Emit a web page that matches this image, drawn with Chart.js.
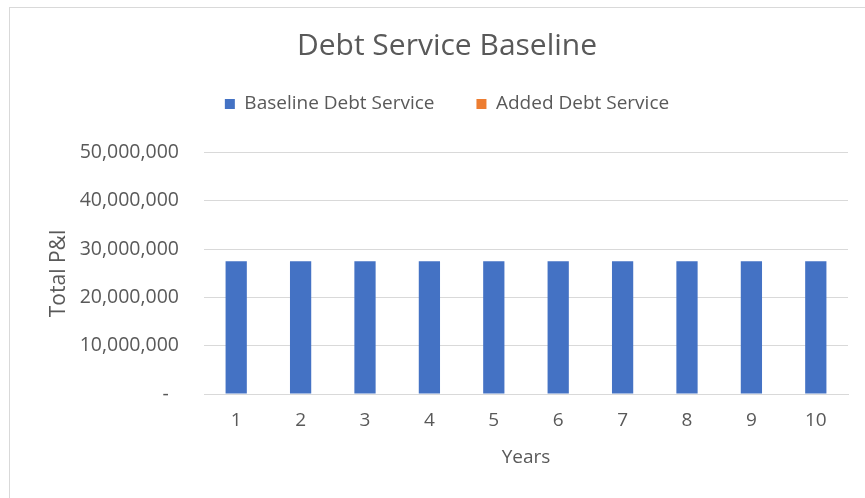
<!DOCTYPE html>
<html><head><meta charset="utf-8">
<script src="https://cdn.jsdelivr.net/npm/chart.js@4/dist/chart.umd.min.js"></script>
<style>
html,body{margin:0;padding:0;background:#fff;}
#wrap{position:relative;width:865px;height:498px;}
#frame{position:absolute;left:9px;top:7px;width:870px;height:500px;border:1px solid #d9d9d9;box-sizing:border-box;}
canvas{position:absolute;left:0;top:0;}
</style></head><body>
<div id="wrap"><div id="frame"></div><canvas id="c" width="865" height="498"></canvas></div>
<script>
const years = ['1','2','3','4','5','6','7','8','9','10'];
const baselineDebtService = [27500000,27500000,27500000,27500000,27500000,27500000,27500000,27500000,27500000,27500000];
const addedDebtService = [0,0,0,0,0,0,0,0,0,0];
const yTicks = [0,10000000,20000000,30000000,40000000,50000000];

const FONT = '"Open Sans", sans-serif';
const GREY = '#595959';
new Chart(document.getElementById('c'), {
  type: 'bar',
  data: {
    labels: years,
    datasets: [
      {label:'Baseline Debt Service', data: baselineDebtService, backgroundColor:'#4472C4', barPercentage:0.33, categoryPercentage:1},
      {label:'Added Debt Service', data: addedDebtService, backgroundColor:'#ED7D31', barPercentage:0.33, categoryPercentage:1}
    ]
  },
  options: {
    responsive:false, animation:false,
    layout:{padding:{left:46,right:17,top:0,bottom:0}},
    plugins:{
      title:{display:true,text:'Debt Service Baseline',color:GREY,font:{family:FONT,size:30,weight:'normal'},padding:{top:28,bottom:-11.5}},
      subtitle:{display:true,text:' ',weight:500,font:{size:10},padding:{top:0,bottom:17}},
      legend:{position:'top',labels:{color:GREY,font:{family:FONT,size:19},boxWidth:10,boxHeight:10,padding:42}},
      tooltip:{enabled:false}
    },
    scales:{
      x:{stacked:true,grid:{display:false,drawTicks:false},border:{color:'#d9d9d9'},
         ticks:{color:GREY,font:{family:FONT,size:19},padding:15},
         title:{display:true,text:'Years',color:GREY,font:{family:FONT,size:19},padding:{top:0,bottom:28.6}},
         afterFit:s=>{s.height=104;}},
      y:{stacked:true,min:0,max:50000000,
         afterBuildTicks:s=>{s.ticks=yTicks.map(v=>({value:v}));},
         grid:{color:'#d9d9d9',drawTicks:false},border:{display:false},
         ticks:{color:GREY,font:{family:FONT,size:19.5},padding:25,
           callback:v=>v===0?'-  ':v.toLocaleString('en-US')},
         title:{display:true,text:'Total P&I',color:GREY,font:{family:FONT,size:21},padding:{top:0,bottom:0}},
         afterFit:s=>{s.width=204-46;}}
    }
  }
});
</script></body></html>
